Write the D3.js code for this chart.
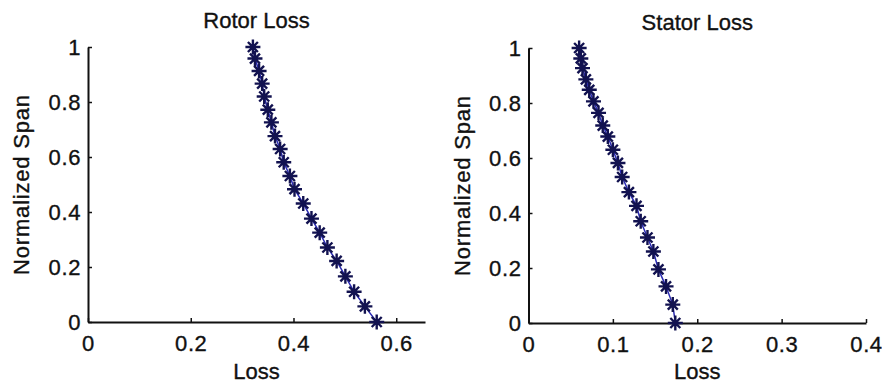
<!DOCTYPE html>
<html>
<head>
<meta charset="utf-8">
<script src="https://cdn.jsdelivr.net/npm/d3@7"></script>
<style>
  html, body { margin: 0; padding: 0; background: #fff; }
  svg text { font-family: "Liberation Sans", Arial, Helvetica, sans-serif; fill: #111;
             stroke: #111; stroke-width: 0.35px; }
</style>
</head>
<body>
<svg id="chart" width="882" height="385"></svg>
<script>
// Spanwise loss distributions (hub = 0, tip = 1)
const rotorLoss = [0.321, 0.325, 0.333, 0.339, 0.343, 0.350, 0.357, 0.364, 0.374, 0.381, 0.393,
                   0.402, 0.419, 0.435, 0.451, 0.466, 0.484, 0.501, 0.518, 0.539, 0.562];
const rotorSpan = [1.000, 0.958, 0.913, 0.867, 0.820, 0.772, 0.726, 0.676, 0.629, 0.581, 0.531,
                   0.483, 0.431, 0.376, 0.325, 0.271, 0.222, 0.166, 0.110, 0.057, 0.000];

const statorLoss = [0.060, 0.062, 0.064, 0.068, 0.072, 0.077, 0.083, 0.088, 0.094, 0.100, 0.106,
                    0.111, 0.119, 0.128, 0.133, 0.141, 0.148, 0.154, 0.163, 0.171, 0.174];
const statorSpan = [1.000, 0.962, 0.927, 0.886, 0.848, 0.806, 0.764, 0.718, 0.678, 0.630, 0.582,
                    0.531, 0.476, 0.426, 0.370, 0.311, 0.260, 0.195, 0.133, 0.067, 0.000];

const rotorXTicks = [0, 0.2, 0.4, 0.6];
const statorXTicks = [0, 0.1, 0.2, 0.3, 0.4];
const spanTicks = [0, 0.2, 0.4, 0.6, 0.8, 1];

const svg = d3.select("#chart");
const FONT = 22;

function drawPanel(opt) {
  const x = d3.scaleLinear().domain(opt.xDomain).range([opt.left, opt.right]);
  const y = d3.scaleLinear().domain([0, 1]).range([opt.bottom, opt.top]);
  const g = svg.append("g");

  // x axis (ticks pointing inward)
  const xAxis = d3.axisBottom(x).tickValues(opt.xTicks).tickSizeInner(-4).tickSizeOuter(0)
    .tickPadding(12).tickFormat(d => d3.format("~g")(d));
  const gx = g.append("g").attr("transform", `translate(0,${opt.bottom})`).call(xAxis);
  gx.select(".domain").attr("stroke", "#111").attr("stroke-width", 2);
  gx.selectAll(".tick line").attr("stroke", "#111").attr("stroke-width", 1.5);
  gx.selectAll(".tick text").attr("font-size", FONT).attr("dy", "0.75em")
    .attr("letter-spacing", "0.6px").attr("fill", "#111");

  // y axis
  const yAxis = d3.axisLeft(y).tickValues(spanTicks).tickSizeInner(-4).tickSizeOuter(0)
    .tickPadding(7).tickFormat(d => d3.format("~g")(d));
  const gy = g.append("g").attr("transform", `translate(${opt.left},0)`).call(yAxis);
  gy.select(".domain").attr("stroke", "#111").attr("stroke-width", 2);
  gy.selectAll(".tick line").attr("stroke", "#111").attr("stroke-width", 1.5);
  gy.selectAll(".tick text").attr("font-size", FONT).attr("letter-spacing", "0.6px")
    .attr("fill", "#111");

  // titles
  g.append("text").attr("x", (opt.left + opt.right) / 2).attr("y", opt.titleY)
    .attr("text-anchor", "middle").attr("font-size", FONT).text(opt.title);
  g.append("text").attr("x", (opt.left + opt.right) / 2).attr("y", 379)
    .attr("text-anchor", "middle").attr("font-size", FONT).text("Loss");
  g.append("text")
    .attr("transform", `translate(${opt.left - 59},${(opt.top + opt.bottom) / 2}) rotate(-90)`)
    .attr("text-anchor", "middle").attr("font-size", FONT).attr("letter-spacing", "0.8px")
    .text("Normalized Span");

  const pts = opt.loss.map((v, i) => [v, opt.span[i]]);

  // connecting line
  g.append("path").datum(pts)
    .attr("d", d3.line().x(d => x(d[0])).y(d => y(d[1])))
    .attr("fill", "none").attr("stroke", "#2a2ab4").attr("stroke-width", 1.5);

  // asterisk markers
  const r = 7.5, rd = 5;
  const star = `M${-r},0L${r},0M0,${-r}L0,${r}M${-rd},${-rd}L${rd},${rd}M${-rd},${rd}L${rd},${-rd}`;
  g.selectAll("path.star").data(pts).join("path")
    .attr("class", "star")
    .attr("transform", d => `translate(${x(d[0])},${y(d[1])})`)
    .attr("d", star)
    .attr("fill", "none").attr("stroke", "#121250").attr("stroke-width", 2.4);
}

drawPanel({
  title: "Rotor Loss", loss: rotorLoss, span: rotorSpan,
  xDomain: [0, 0.656], xTicks: rotorXTicks,
  left: 88, right: 425, top: 47, bottom: 322, titleY: 28
});

drawPanel({
  title: "Stator Loss", loss: statorLoss, span: statorSpan,
  xDomain: [0, 0.4], xTicks: statorXTicks,
  left: 528.5, right: 866, top: 48, bottom: 323, titleY: 30
});
</script>
</body>
</html>
